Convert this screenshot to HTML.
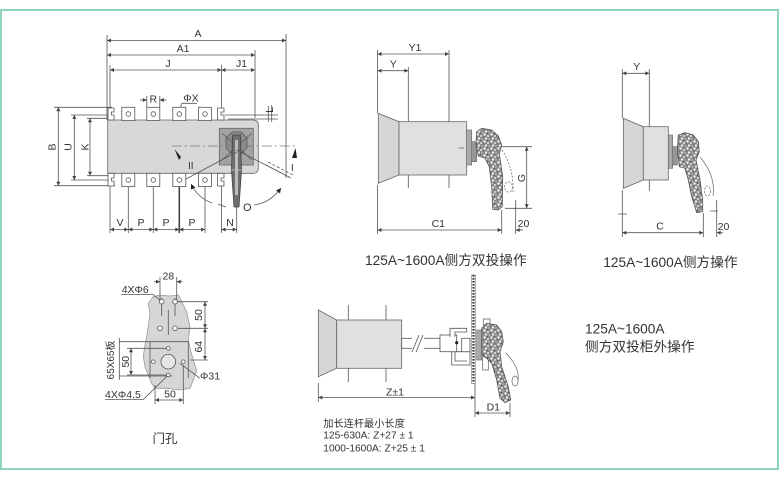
<!DOCTYPE html>
<html><head><meta charset="utf-8"><style>
html,body{margin:0;padding:0;background:#fff;}
svg{display:block;}
text{font-family:"Liberation Sans","Noto Sans CJK SC",sans-serif;fill:#333;}
</style></head><body>
<svg width="780" height="479" viewBox="0 0 780 479" xmlns="http://www.w3.org/2000/svg">
<defs>
<marker id="ar" viewBox="0 0 10 10" refX="10" refY="5" markerWidth="5" markerHeight="4" orient="auto-start-reverse" markerUnits="userSpaceOnUse"><path d="M0,0L10,5L0,10z" fill="#444"/></marker>
<marker id="ab" viewBox="0 0 10 10" refX="10" refY="5" markerWidth="8" markerHeight="5" orient="auto-start-reverse" markerUnits="userSpaceOnUse"><path d="M0,0L10,5L0,10z" fill="#222"/></marker>
<pattern id="sp" width="7" height="7" patternUnits="userSpaceOnUse"><rect width="7" height="7" fill="#8a8a8a"/><circle cx="1.5" cy="1.5" r="1.2" fill="#f2f2f2"/><circle cx="5" cy="3" r="1" fill="#e4e4e4"/><circle cx="3" cy="5.5" r="1.1" fill="#f6f6f6"/><circle cx="6" cy="6" r="0.7" fill="#ccc"/><circle cx="4.5" cy="0.8" r="0.5" fill="#333"/><circle cx="0.8" cy="4" r="0.5" fill="#444"/></pattern>
</defs>
<rect x="1" y="10" width="777" height="459" fill="none" stroke="#8fd3bb" stroke-width="2"/>

<!-- ============ TOP LEFT ============ -->
<g stroke="#555" stroke-width="0.8" fill="none">
  <path d="M107,35V120 M110,65V120 M110,173V233 M286,34V178 M255,50V118 M221.5,65V112 M221.5,186V233 M236.7,205V233"/>
  <path d="M54,107.3H112 M54,185.7H115 M71,115H110 M71,180H110 M87,118.3H110 M87,175.7H110"/>
  <path d="M128.3,180V233 M153.3,180V233 M205,180V233"/>
  <path d="M179.3,180V233" stroke-width="1.6" stroke="#444"/>
  <path d="M146.8,96V107 M159.8,96V107"/>
  <path d="M225,115H278 M228,119H278 M268.3,106V122 M271.7,105V122"/>
</g>
<g stroke="#555" stroke-width="0.8" marker-start="url(#ar)" marker-end="url(#ar)">
  <line x1="107" y1="40.5" x2="286" y2="40.5"/>
  <line x1="107" y1="55" x2="255" y2="55"/>
  <line x1="110" y1="70" x2="221.5" y2="70"/>
  <line x1="221.5" y1="70" x2="255" y2="70"/>
  <line x1="110" y1="229.5" x2="128.3" y2="229.5"/>
  <line x1="128.3" y1="229.5" x2="153.3" y2="229.5"/>
  <line x1="153.3" y1="229.5" x2="179.3" y2="229.5"/>
  <line x1="179.3" y1="229.5" x2="205" y2="229.5"/>
  <line x1="221.5" y1="229.5" x2="236.7" y2="229.5"/>
  <line x1="58.3" y1="107.3" x2="58.3" y2="185.7"/>
  <line x1="74.3" y1="115" x2="74.3" y2="180"/>
  <line x1="90" y1="118.3" x2="90" y2="175.7"/>
</g>
<g stroke="#555" stroke-width="0.8">
  <line x1="140" y1="100" x2="146.8" y2="100" marker-end="url(#ar)"/>
  <line x1="166.5" y1="100" x2="159.8" y2="100" marker-end="url(#ar)"/>
  <path d="M181.7,103.3H197 M181.7,103.3L179.3,113" fill="none"/>
</g>
<!-- body -->
<path d="M107.7,120H253Q258.3,120 258.3,125V168Q258.3,173.3 253,173.3H107.7Z" fill="#d8d8d8" stroke="#666" stroke-width="0.8"/>
<g fill="#fff" stroke="#555" stroke-width="0.8">
  <rect x="121.8" y="107.3" width="13" height="13.3"/><rect x="146.8" y="107.3" width="13" height="13.3"/>
  <rect x="172.8" y="107.3" width="13" height="13.3"/><rect x="198.5" y="107.3" width="13" height="13.3"/>
  <rect x="121.8" y="173.3" width="13" height="13.3"/><rect x="146.8" y="173.3" width="13" height="13.3"/>
  <rect x="172.8" y="173.3" width="13" height="13.3"/><rect x="198.5" y="173.3" width="13" height="13.3"/>
  <path d="M108,108H114V112H111.5V115H114V120H108Z"/>
  <path d="M217.5,108H224V112H221V115H224V120H217.5Z"/>
  <path d="M108,173.3H114V178H111.5V181H114V186H108Z"/>
  <path d="M217.5,173.3H224V178H221V181H224V186H217.5Z"/>
</g>
<g fill="none" stroke="#555" stroke-width="0.8">
  <circle cx="128.3" cy="114" r="2.3"/><circle cx="153.3" cy="114" r="2.3"/><circle cx="179.3" cy="114" r="2.3"/><circle cx="205" cy="114" r="2.3"/>
  <circle cx="128.3" cy="180" r="2.3"/><circle cx="153.3" cy="180" r="2.3"/><circle cx="179.3" cy="180" r="2.3"/><circle cx="205" cy="180" r="2.3"/>
</g>
<!-- handle -->
<rect x="219.3" y="128.3" width="34" height="36.7" fill="#a3a3a3" stroke="#666" stroke-width="0.8"/>
<polygon points="232,132 241,132 247,138 247,148 241,154 232,154 226,148 226,138" fill="#8c8c8c" stroke="#555" stroke-width="0.8"/>
<g stroke="#555" stroke-width="0.7" fill="none">
  <path d="M222,133L252,160 M222,160L252,133"/>
</g>
<line x1="171.7" y1="146" x2="297" y2="146" stroke="#777" stroke-width="0.8" stroke-dasharray="10 3 2 3"/>
<path d="M232.5,135L240.5,135L241.5,170L239,207L234,207L231.5,170Z" fill="#6e6e6e" stroke="#444" stroke-width="0.8"/>
<rect x="235" y="140" width="3" height="55" fill="#bdbdbd"/>
<line x1="231.5" y1="170" x2="241.5" y2="170" stroke="#ccc" stroke-width="0.8"/>
<g stroke="#555" stroke-width="0.8" fill="none">
  <line x1="236.7" y1="152" x2="186" y2="179"/>
  <line x1="236.7" y1="150" x2="289" y2="177"/>
  <path d="M191,184Q198,198 212,203" marker-start="url(#ab)"/>
  <path d="M254,205Q270,203 281,188" marker-end="url(#ab)"/>
  <path d="M218,204L226,207"/>
  <path d="M266,165L291,178 M268,162L293,175" stroke-dasharray="3 2"/>
</g>
<polygon points="292,158 295.5,148 297,158" fill="#222"/>
<polygon points="174.5,149 179,160 181,157" fill="#222"/>
<text x="188" y="169" font-size="10" font-family="Liberation Serif,serif">II</text>
<text x="291" y="171" font-size="10" font-family="Liberation Serif,serif">I</text>
<text x="243" y="211" font-size="11">O</text>
<g font-size="10.5" text-anchor="middle">
  <text x="198" y="37">A</text>
  <text x="183" y="52">A1</text>
  <text x="168" y="67">J</text>
  <text x="241.5" y="67">J1</text>
  <text x="153.3" y="102.7">R</text>
  <text x="191" y="101.5">ΦX</text>
  <text x="120" y="226">V</text>
  <text x="141" y="226">P</text>
  <text x="166" y="226">P</text>
  <text x="192" y="226">P</text>
  <text x="230" y="226">N</text>
  <text transform="translate(55.5,147) rotate(-90)">B</text>
  <text transform="translate(71.5,147) rotate(-90)">U</text>
  <text transform="translate(88.5,147) rotate(-90)">K</text>
  <text transform="translate(273,110) rotate(-90)">L</text>
</g>

<!-- ============ TOP MIDDLE ============ -->
<g stroke="#555" stroke-width="0.8" fill="none">
  <path d="M377.5,50V113 M377.5,185V234 M408.3,67V121.7 M408.3,175V188 M449,50V121.7 M449,175V188"/>
  <path d="M500,146.7H532 M505,208.3H532 M501.7,210V234 M515.7,200V234"/>
</g>
<g stroke="#555" stroke-width="0.8" marker-start="url(#ar)" marker-end="url(#ar)">
  <line x1="377.5" y1="54" x2="449" y2="54"/>
  <line x1="377.5" y1="70.7" x2="408.3" y2="70.7"/>
  <line x1="377.5" y1="230" x2="501.7" y2="230"/>
  <line x1="526.7" y1="146.7" x2="526.7" y2="208.3"/>
</g>
<line x1="523" y1="230" x2="515.7" y2="230" stroke="#555" stroke-width="0.8" marker-end="url(#ar)"/>
<polygon points="378.3,113.3 399,121.7 399,175 378.3,183.3" fill="#d6d6d6" stroke="#666" stroke-width="0.8"/>
<rect x="399" y="121.7" width="67.7" height="53.3" fill="#e0e0e0" stroke="#666" stroke-width="0.8"/>
<rect x="466.7" y="130" width="5" height="35" fill="#aaa" stroke="#666" stroke-width="0.6"/>
<rect x="471.7" y="141.7" width="5" height="20" fill="#979797" stroke="#666" stroke-width="0.6"/>
<line x1="459" y1="148" x2="464" y2="148" stroke="#666" stroke-width="0.8"/>
<path d="M476.7,131.7L481.7,128.3L491.7,130L498.3,136L501.7,145L499.3,154L502.7,176.7L502.3,206.7L498.3,210L492.7,209.3L491.7,186.7L489.3,166.7L485,158.3L478.3,156L476,143.3Z" fill="url(#sp)" stroke="#555" stroke-width="0.8"/>
<g stroke="#666" stroke-width="0.7" fill="none" stroke-dasharray="2 1.5">
  <path d="M502,150Q514,168 513,192"/>
  <ellipse cx="508.5" cy="187" rx="4" ry="5"/>
</g>
<g font-size="10.5" text-anchor="middle">
  <text x="415" y="51">Y1</text>
  <text x="393.3" y="67.5">Y</text>
  <text x="438.3" y="227">C1</text>
  <text x="523.5" y="227">20</text>
  <text transform="translate(525,178) rotate(-90)">G</text>
</g>
<text x="365" y="265" font-size="13.7" fill="#222">125A~1600A侧方双投操作</text>
<circle cx="475" cy="276.5" r="0.8" fill="#999"/>

<!-- ============ TOP RIGHT ============ -->
<g stroke="#555" stroke-width="0.8" fill="none">
  <path d="M622.3,69V118.3 M622.3,190V237 M649.3,69V126.7 M649.3,180V191 M618,214H627"/>
  <path d="M703.3,213V237 M716.7,200V237 M710,211H718"/>
</g>
<g stroke="#555" stroke-width="0.8" marker-start="url(#ar)" marker-end="url(#ar)">
  <line x1="622.3" y1="73.3" x2="649.3" y2="73.3"/>
  <line x1="622.3" y1="232.7" x2="703.3" y2="232.7"/>
</g>
<line x1="723" y1="232.7" x2="716.7" y2="232.7" stroke="#555" stroke-width="0.8" marker-end="url(#ar)"/>
<polygon points="623.3,118.3 643.3,126.7 643.3,180 623.3,188.3" fill="#d6d6d6" stroke="#666" stroke-width="0.8"/>
<rect x="643.3" y="126.7" width="25" height="53.3" fill="#e0e0e0" stroke="#666" stroke-width="0.8"/>
<rect x="668.3" y="135" width="4.4" height="33.3" fill="#aaa" stroke="#666" stroke-width="0.6"/>
<rect x="672.7" y="146.7" width="4.6" height="18.3" fill="#979797" stroke="#666" stroke-width="0.6"/>
<path d="M678.3,135L685,132.7L693.3,135L698.3,141.7L699.3,151.7L696,160L700,180L702.7,200L702.7,211.7L696.7,212.7L691.7,196.7L688.3,180L685,168.3L679.3,166.7L677.3,150Z" fill="url(#sp)" stroke="#555" stroke-width="0.8"/>
<g stroke="#666" stroke-width="0.7" fill="none">
  <path d="M700,157Q716,176 713,196"/>
  <ellipse cx="707.5" cy="191" rx="3" ry="5" stroke-dasharray="2 1.5"/>
</g>
<g font-size="10.5" text-anchor="middle">
  <text x="636.7" y="70">Y</text>
  <text x="660" y="229.5">C</text>
  <text x="723.5" y="230">20</text>
</g>
<text x="603.3" y="267" font-size="13.7" fill="#222">125A~1600A侧方操作</text>

<!-- ============ BOTTOM LEFT ============ -->
<path d="M153.3,296.7L160,295L170,296L178.3,295L181.7,301.7L186.7,311.7L190,326.7L188.3,340L190,348.3L193.3,360L196.7,370L193.3,380L190,388.3L180,390L166.7,388.3L155,388.3L151.7,383.3L148.3,375L145,366.7L143.3,356.7L145,345L146.7,336.7L148.3,326.7L150,313.3L148.3,303.3Z" fill="#d6d6d6" stroke="#999" stroke-width="0.8"/>
<g stroke="#555" stroke-width="0.8" fill="none">
  <path d="M160,277V300 M176.7,277V300"/>
  <path d="M161.7,298V316 M175,298V316 M168.3,310V335"/>
  <path d="M177,301.7H208 M178,328.3H208 M190,360H208"/>
  <path d="M121,294.5H153L161.7,301.7"/>
  <path d="M119.3,338V380 M119.3,341.7H188.3V378 M150,341.7V378 M119.3,376H172"/>
  <path d="M127,348.3H168 M127,375H168"/>
  <path d="M180,363.3L200,378.3"/>
  <path d="M105,399.5H143.3L168.3,375"/>
  <path d="M155,385V404 M183.3,365V404"/>
</g>
<g fill="#fff" stroke="#555" stroke-width="0.8">
  <circle cx="161.7" cy="301.7" r="2.3"/><circle cx="175" cy="301.7" r="2.3"/>
  <circle cx="160" cy="328.3" r="2.3"/><circle cx="175" cy="328.3" r="2.3"/>
  <circle cx="168.3" cy="361.7" r="7.3" fill="#e6e6e6"/>
  <circle cx="168.3" cy="348.3" r="1.8"/><circle cx="153.3" cy="361.7" r="1.8"/>
  <circle cx="183.3" cy="361.7" r="1.8"/><circle cx="168.3" cy="375" r="1.8"/>
</g>
<g stroke="#555" stroke-width="0.8" marker-start="url(#ar)" marker-end="url(#ar)">
  <line x1="205" y1="301.7" x2="205" y2="328.3"/>
  <line x1="205" y1="328.3" x2="205" y2="360"/>
  <line x1="131" y1="348.3" x2="131" y2="375"/>
  <line x1="155" y1="400" x2="183.3" y2="400"/>
</g>
<g stroke="#555" stroke-width="0.8">
  <line x1="154" y1="281.7" x2="160" y2="281.7" marker-end="url(#ar)"/>
  <line x1="182.5" y1="281.7" x2="176.7" y2="281.7" marker-end="url(#ar)"/>
</g>
<g font-size="10.5">
  <text x="168.3" y="279.3" text-anchor="middle">28</text>
  <text x="121.7" y="293">4XΦ6</text>
  <text transform="translate(202,315) rotate(-90)" text-anchor="middle">50</text>
  <text transform="translate(202,346.7) rotate(-90)" text-anchor="middle">64</text>
  <text transform="translate(129,361.7) rotate(-90)" text-anchor="middle">50</text>
  <text transform="translate(114,360) rotate(-90)" text-anchor="middle" font-size="10">65X65板</text>
  <text x="200" y="379.5">Φ31</text>
  <text x="105" y="398">4XΦ4.5</text>
  <text x="170" y="397.5" text-anchor="middle">50</text>
</g>
<text x="165" y="443" font-size="12.5" text-anchor="middle" fill="#222">门孔</text>

<!-- ============ BOTTOM MIDDLE ============ -->
<g stroke="#555" stroke-width="0.8" fill="none">
  <path d="M348.3,305V320 M348.3,368.3V382 M386,305V320 M386,368.3V382"/>
  <path d="M318.3,383V402 M475,383V417 M510,403V417"/>
</g>
<polygon points="318.3,310 336.7,320 336.7,368.3 318.3,376.7" fill="#d6d6d6" stroke="#666" stroke-width="0.8"/>
<rect x="336.7" y="320" width="65" height="48.3" fill="#e0e0e0" stroke="#666" stroke-width="0.8"/>
<rect x="401.7" y="338.3" width="38.3" height="10" fill="#fff" stroke="#555" stroke-width="0.8"/>
<rect x="412" y="336" width="12" height="15" fill="#fff"/>
<path d="M412,352L419,335 M416,352L423,335" stroke="#555" stroke-width="0.8"/>
<g fill="#fff" stroke="#555" stroke-width="0.8">
  <path d="M451.7,351.7H470V365H451.7Z"/>
  <path d="M455,351.7V361H467"/>
  <rect x="440" y="335" width="16.7" height="16.7"/>
  <path d="M450,336.7V328.3H466.7V332H455V336.7"/>
  <rect x="461.7" y="338.3" width="8.3" height="13.4"/>
</g>
<circle cx="456.7" cy="342.7" r="1.6" fill="#222"/>
<rect x="471.5" y="275" width="4" height="108.3" fill="#fff" stroke="#777" stroke-width="0.6"/>
<line x1="473.5" y1="275" x2="473.5" y2="383.3" stroke="#333" stroke-width="2.2" stroke-dasharray="1.6 1.4"/>
<rect x="476.7" y="330" width="5" height="30" fill="#aaa" stroke="#666" stroke-width="0.6"/>
<rect x="483.3" y="319" width="6.7" height="6" fill="#fff" stroke="#555" stroke-width="0.7"/>
<rect x="482.7" y="356.7" width="5.6" height="13.3" fill="#fff" stroke="#555" stroke-width="0.7"/>
<path d="M481.7,328.3L486.7,323.3L496.7,325L501.7,331.7L503.3,341.7L500,351.7L501.7,366.7L508.3,386.7L510.7,400L505,402.7L500,398.3L496.7,380L491.7,363.3L486.7,358.3L481.7,355Z" fill="url(#sp)" stroke="#555" stroke-width="0.8"/>
<g stroke="#666" stroke-width="0.7" fill="none">
  <path d="M506,353Q520,368 518,380"/>
  <ellipse cx="515" cy="381" rx="3" ry="5"/>
</g>
<g stroke="#555" stroke-width="0.8" marker-start="url(#ar)" marker-end="url(#ar)">
  <line x1="318.3" y1="397.5" x2="475" y2="397.5"/>
  <line x1="475" y1="413" x2="510" y2="413"/>
</g>
<g font-size="10.5" text-anchor="middle">
  <text x="395" y="395.5">Z±1</text>
  <text x="493.3" y="410.5">D1</text>
</g>
<g font-size="10.2" fill="#222">
  <text x="323.3" y="427">加长连杆最小长度</text>
  <text x="323.3" y="438.7">125-630A: Z+27 ± 1</text>
  <text x="323.3" y="451.5">1000-1600A: Z+25 ± 1</text>
</g>

<!-- ============ RIGHT TEXT ============ -->
<text x="585" y="333.3" font-size="13.7" fill="#222">125A~1600A</text>
<text x="585" y="351.5" font-size="13.7" fill="#222">侧方双投柜外操作</text>
</svg>
</body></html>
